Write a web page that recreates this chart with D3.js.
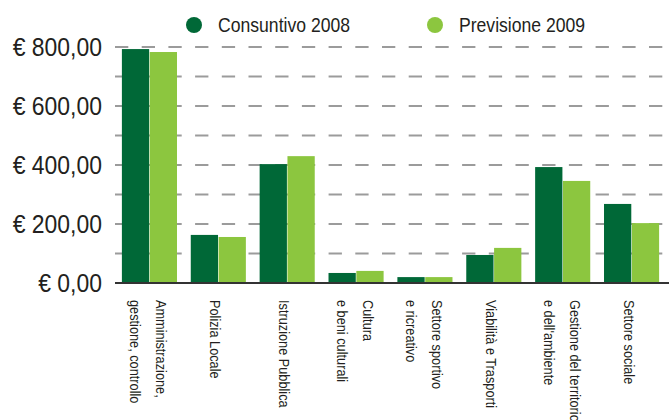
<!DOCTYPE html>
<html>
<head>
<meta charset="utf-8">
<title>Consuntivo 2008 / Previsione 2009</title>
<script src="https://d3js.org/d3.v7.min.js"></script>
<style>
body { margin: 0; background: #fff; }
svg { display: block; font-family: "Liberation Sans", Arial, sans-serif; }
</style>
</head>
<body>
<svg id="chart" width="669" height="420"></svg>
<script>
const categories = [
    ["Amministrazione,", "gestione, controllo"],
    ["Polizia Locale"],
    ["Istruzione Pubblica"],
    ["Cultura", "e beni culturali"],
    ["Settore sportivo", "e ricreativo"],
    ["Viabilità e Trasporti"],
    ["Gestione del territorio", "e dell'ambiente"],
    ["Settore sociale"]
];
const seriesNames = ["Consuntivo 2008", "Previsione 2009"];
const consuntivo2008 = [793, 163, 403, 34, 20, 95, 393, 268];
const previsione2009 = [783, 156, 430, 41, 20, 119, 346, 203];
const yTicks = [0, 200, 400, 600, 800];
const gridValues = [100, 200, 300, 400, 500, 600, 700, 800];
const colors = ["#006837", "#8cc63f"];

// the original type is a condensed sans, so squeeze a normal one horizontally
const narrow = 0.85;

const svg = d3.select("#chart");
const margin = { top: 47, left: 115 };

const x = d3.scaleBand()
    .domain(d3.range(categories.length))
    .range([margin.left, margin.left + 551])
    .paddingInner(0.2)
    .paddingOuter(0.1);

const xs = d3.scaleBand()
    .domain([0, 1])
    .range([0, x.bandwidth()])
    .paddingInner(0.02);

const y = d3.scaleLinear()
    .domain([0, 800])
    .range([283, 47]);

const euro = d3.formatLocale({ decimal: ",", thousands: ".", grouping: [3], currency: ["€ ", ""] }).format("$,.2f");

// dashed gridlines
svg.append("g")
    .selectAll("line")
    .data(gridValues)
    .enter()
    .append("line")
    .attr("x1", margin.left)
    .attr("x2", 669)
    .attr("y1", d => y(d))
    .attr("y2", d => y(d))
    .attr("stroke", "#9b9b9b")
    .attr("stroke-width", 2)
    .attr("stroke-dasharray", "13.3,13.4");

// y labels
svg.append("g")
    .selectAll("text")
    .data(yTicks)
    .enter()
    .append("text")
    .attr("transform", d => `translate(102,${y(d)}) scale(0.9,1)`)
    .attr("dy", "0.36em")
    .attr("text-anchor", "end")
    .attr("font-size", 25.5)
    .attr("fill", "#231f20")
    .text(d => euro(d));

// bars
const rows = categories.map((c, i) => [consuntivo2008[i], previsione2009[i]]);
const groups = svg.append("g")
    .selectAll("g")
    .data(rows)
    .enter()
    .append("g")
    .attr("transform", (d, i) => `translate(${x(i)},0)`);

groups.selectAll("rect")
    .data(d => d)
    .enter()
    .append("rect")
    .attr("x", (d, j) => xs(j))
    .attr("y", d => y(d))
    .attr("width", xs.bandwidth())
    .attr("height", d => y(0) - y(d))
    .attr("fill", (d, j) => colors[j]);

// baseline
svg.append("line")
    .attr("x1", margin.left)
    .attr("x2", 669)
    .attr("y1", y(0))
    .attr("y2", y(0))
    .attr("stroke", "#333")
    .attr("stroke-width", 2);

// x labels, rotated (first line on the right, second to its left)
const labels = svg.append("g")
    .selectAll("text")
    .data(categories)
    .enter()
    .append("text")
    .attr("font-size", 15)
    .attr("fill", "#231f20")
    .attr("transform", (d, i) => {
        const cx = x(i) + x.bandwidth() / 2;
        const base = d.length === 1 ? cx - 8 : cx + 7;
        return `translate(${base},300) rotate(90) scale(${narrow},1)`;
    });

labels.selectAll("tspan")
    .data(d => d)
    .enter()
    .append("tspan")
    .attr("x", 0)
    .attr("y", (d, k) => k * 26)
    .text(d => d);

// legend
const legend = svg.append("g");
const legendX = [194, 435];
seriesNames.forEach((name, i) => {
    legend.append("circle")
        .attr("cx", legendX[i])
        .attr("cy", 25)
        .attr("r", 8)
        .attr("fill", colors[i]);
    legend.append("text")
        .attr("transform", `translate(${legendX[i] + 24},32) scale(0.88,1)`)
        .attr("font-size", 20)
        .attr("fill", "#231f20")
        .text(name);
});
</script>
</body>
</html>
